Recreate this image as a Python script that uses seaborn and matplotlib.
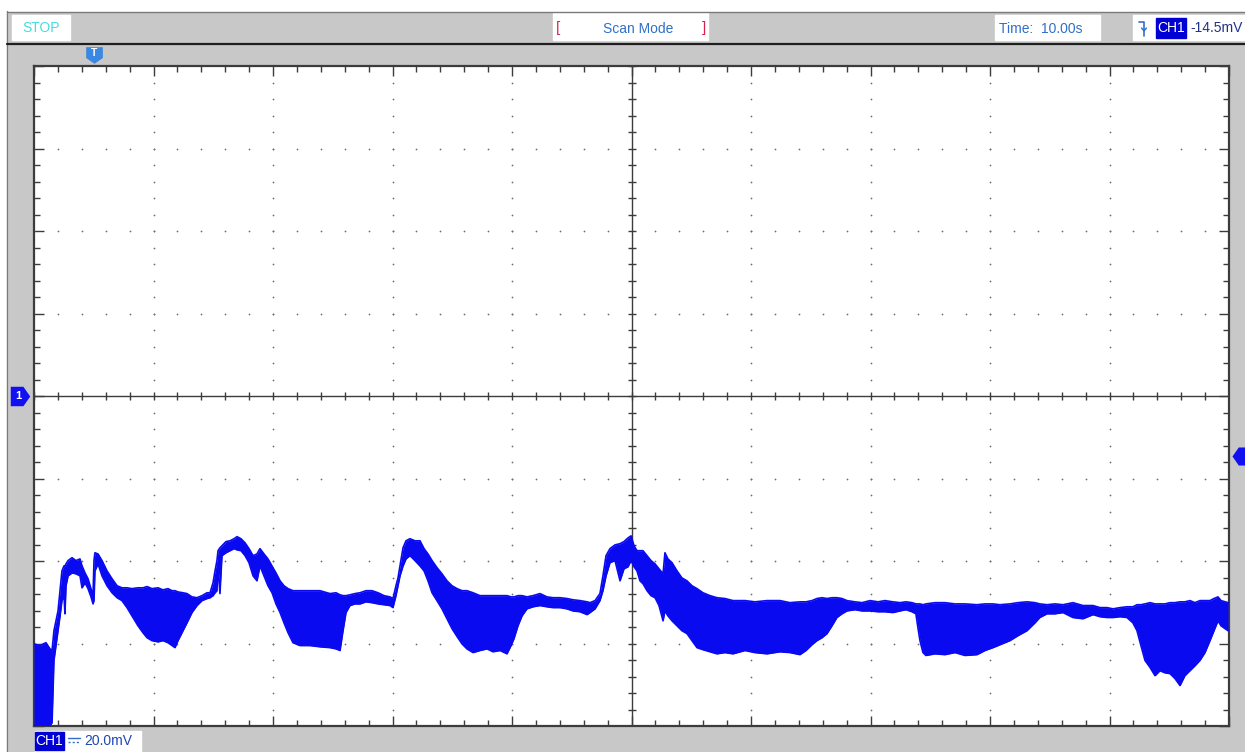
import numpy as np
import pandas as pd
import matplotlib
matplotlib.use("Agg")
import matplotlib.pyplot as plt
import matplotlib.transforms as mtransforms
from matplotlib.patches import Rectangle
from matplotlib.lines import Line2D
import seaborn as sns

time_s = [0.00, 0.50, 1.00, 1.34, 1.51, 1.67, 1.84, 2.01, 2.18, 2.34, 2.51, 2.59, 2.68, 2.85, 3.18, 3.51, 3.85,
          4.02, 4.27, 4.52, 4.77, 4.94, 5.02, 5.10, 5.36, 5.69, 6.11, 6.53, 6.95, 7.36, 7.78, 8.20, 8.70, 9.12,
          9.46, 9.87, 10.38, 10.79, 11.21, 11.55, 11.80, 12.05, 12.47, 12.80, 13.22, 13.64, 14.06, 14.48, 14.73,
          14.98, 15.15, 15.31, 15.40, 15.56, 15.73, 16.07, 16.40, 16.74, 16.99, 17.32, 17.66, 17.99, 18.33, 18.66,
          18.91, 19.25, 19.58, 19.92, 20.25, 20.59, 20.92, 21.26, 21.67, 22.26, 23.10, 23.93, 24.77, 25.27, 25.61,
          25.86, 26.11, 26.44, 26.86, 27.28, 27.78, 28.28, 28.79, 29.29, 29.79, 30.04, 30.29, 30.46, 30.63, 30.88,
          31.13, 31.46, 31.88, 32.30, 32.64, 32.97, 33.31, 33.72, 34.14, 34.56, 34.98, 35.40, 35.82, 36.23, 36.74,
          37.32, 37.91, 38.41, 39.00, 39.58, 39.92, 40.17, 40.50, 40.84, 41.25, 41.76, 42.34, 42.93, 43.43, 44.02,
          44.60, 45.10, 45.69, 46.28, 46.53, 46.95, 47.36, 47.61, 47.87, 48.20, 48.62, 49.04, 49.37, 49.71, 49.96,
          50.21, 50.46, 50.71, 50.96, 51.30, 51.63, 51.97, 52.30, 52.64, 52.80, 53.05, 53.39, 53.81, 54.22, 54.64,
          55.06, 55.48, 55.98, 56.57, 57.15, 57.82, 58.49, 59.50, 60.33, 61.34, 62.43, 63.26, 64.10, 64.60, 65.10,
          65.52, 65.94, 66.36, 66.78, 67.19, 67.61, 68.03, 68.70, 69.29, 69.96, 70.63, 71.21, 71.88, 72.47, 72.97,
          73.47, 73.80, 73.97, 74.14, 74.39, 74.64, 75.40, 76.23, 77.07, 77.91, 78.91, 79.58, 80.25, 80.83, 81.67,
          82.34, 83.09, 83.76, 84.17, 84.77, 85.44, 86.11, 86.94, 87.78, 88.62, 89.21, 89.79, 90.30, 90.88, 91.46,
          91.96, 92.30, 92.63, 92.97, 93.39, 93.81, 94.22, 94.64, 95.06, 95.48, 95.90, 96.31, 96.73, 97.15, 97.57,
          97.99, 98.41, 98.74, 99.08, 99.33, 99.67, 99.92]

upper_mv = [-60.1, -60.5, -59.8, -61.3, -61.7, -56.9, -54.5, -52.1, -47.2, -42.4, -41.2, -41.2, -40.7, -39.9, -39.2,
            -39.9, -39.5, -41.2, -42.9, -44.3, -46.7, -48.4, -39.9, -38.0, -38.3, -39.9, -42.4, -44.3, -46.0, -46.5,
            -46.5, -46.7, -46.5, -46.5, -46.2, -46.7, -46.5, -47.0, -46.7, -47.2, -47.2, -47.5, -47.7, -47.9, -48.7,
            -48.9, -48.4, -47.7, -47.7, -45.3, -42.4, -39.9, -37.5, -36.8, -36.3, -35.3, -35.1, -34.6, -34.1, -34.6,
            -35.6, -37.0, -38.7, -38.3, -37.0, -38.3, -39.5, -41.2, -42.9, -44.8, -46.0, -46.7, -47.2, -47.2, -47.2,
            -47.2, -47.9, -47.7, -48.2, -48.4, -48.4, -48.2, -47.9, -47.7, -47.2, -47.2, -47.7, -48.4, -48.7, -49.1,
            -46.0, -44.1, -41.2, -36.8, -35.1, -34.6, -35.1, -35.1, -37.0, -38.3, -39.9, -41.6, -43.1, -44.8, -46.0,
            -46.7, -47.2, -47.2, -47.7, -48.4, -48.4, -48.4, -48.4, -48.4, -48.7, -48.7, -48.4, -48.4, -48.7, -48.4,
            -47.9, -48.7, -48.9, -48.9, -49.1, -49.4, -49.6, -49.9, -50.1, -49.6, -47.9, -43.6, -38.7, -37.0, -36.1,
            -35.8, -35.3, -34.4, -33.9, -36.3, -37.5, -37.5, -37.5, -38.7, -39.9, -40.7, -41.9, -43.1, -38.0, -39.5,
            -40.4, -42.4, -44.1, -44.8, -46.0, -46.7, -47.7, -48.4, -48.9, -49.1, -49.6, -49.6, -49.9, -49.6, -49.6,
            -50.1, -49.9, -49.9, -49.6, -49.1, -48.9, -49.1, -48.9, -48.9, -49.1, -49.6, -49.9, -50.1, -49.6, -49.9,
            -49.6, -49.9, -50.1, -49.9, -50.1, -50.4, -50.4, -50.4, -50.6, -50.4, -50.1, -50.1, -50.4, -50.4, -50.6,
            -50.4, -50.4, -50.6, -50.4, -50.1, -49.9, -50.1, -50.4, -50.6, -50.4, -50.6, -50.1, -50.8, -50.8, -51.3,
            -51.3, -51.6, -51.3, -51.1, -51.1, -50.6, -50.6, -50.4, -50.1, -50.4, -50.4, -50.4, -50.1, -50.1, -49.9,
            -49.9, -49.6, -50.1, -49.6, -49.6, -49.6, -49.1, -48.7, -49.6, -49.9, -50.1]

lower_mv = [-79.9, -79.9, -79.9, -79.9, -79.2, -64.1, -60.5, -56.9, -53.3, -49.6, -48.4, -52.8, -46.0, -43.6, -42.9,
            -43.1, -43.6, -46.5, -45.3, -46.7, -48.7, -50.4, -49.6, -42.4, -40.7, -43.6, -46.0, -47.7, -48.9, -49.6,
            -51.3, -53.3, -55.7, -57.4, -58.6, -59.3, -59.6, -59.3, -59.8, -60.5, -61.0, -59.3, -56.9, -55.0, -52.5,
            -50.8, -49.6, -49.1, -48.9, -48.4, -47.7, -47.2, -41.2, -47.9, -38.7, -38.0, -37.5, -37.0, -37.3, -37.5,
            -38.7, -40.4, -43.6, -44.8, -41.2, -43.6, -46.0, -47.7, -50.4, -52.5, -55.0, -57.4, -59.8, -60.5, -60.5,
            -60.8, -61.0, -61.3, -61.7, -56.9, -52.5, -50.8, -50.4, -50.4, -49.9, -50.1, -50.4, -50.6, -50.8, -51.3,
            -48.4, -46.0, -43.6, -41.2, -39.5, -38.7, -39.9, -41.2, -42.4, -44.8, -47.7, -49.6, -51.6, -54.0, -56.4,
            -58.3, -60.1, -61.3, -62.2, -61.7, -61.3, -62.0, -61.7, -62.5, -60.5, -58.8, -55.7, -53.3, -51.6, -51.1,
            -50.8, -51.1, -51.3, -51.3, -51.6, -52.1, -52.3, -53.0, -52.5, -51.6, -49.6, -47.2, -43.6, -40.4, -39.9,
            -44.8, -41.9, -41.4, -39.9, -41.4, -42.4, -44.8, -45.5, -47.2, -48.4, -48.9, -50.8, -54.5, -52.1, -53.3,
            -54.5, -55.7, -56.9, -57.6, -59.3, -61.0, -61.5, -62.0, -62.5, -62.2, -62.5, -61.7, -62.2, -62.5, -62.0,
            -62.2, -62.7, -61.7, -60.3, -59.3, -58.6, -57.6, -55.7, -53.7, -52.8, -52.1, -51.8, -52.1, -52.1, -52.3,
            -52.3, -52.5, -52.1, -51.8, -52.3, -52.8, -56.2, -59.3, -62.2, -62.9, -62.5, -62.7, -62.2, -62.9, -62.7,
            -61.7, -61.0, -60.3, -59.3, -58.1, -56.9, -55.0, -53.7, -52.8, -52.8, -52.5, -53.7, -54.0, -53.0, -53.5,
            -53.7, -53.7, -53.5, -53.7, -55.0, -56.9, -60.5, -64.1, -65.8, -67.8, -66.6, -67.1, -67.3, -68.5, -70.2,
            -67.8, -66.6, -65.4, -64.1, -62.2, -59.3, -56.9, -54.5, -55.7, -56.4, -56.9]

volts_per_div_mv = 20.0
time_per_div_s = 10.0
n_xdiv = 10
n_ydiv = 8
trigger_time_s = 5.0
trigger_level_mv = -14.5
status_text = "STOP"
mode_text = "Scan Mode"
time_text = "Time:  10.00s"
channel_text = "CH1"
trigger_text = "-14.5mV"
scale_text = "20.0mV"

df = pd.DataFrame({"time": time_s, "upper": upper_mv, "lower": lower_mv})

# ---------------- styling ----------------
W, H = 1245, 752
BG = "#C8C8C8"
SIG = "#0A0AF0"
FRAME = "#3C3C3C"
TXT_BLUE = "#3070C8"
HL_BLUE = "#0000D4"

sns.set_theme(style="white")
plt.rcParams["font.family"] = ["Liberation Sans", "DejaVu Sans"]

fig = plt.figure(figsize=(W / 100, H / 100), dpi=100, facecolor=BG)


def fx(x):
    return x / W


def fy(y):
    return 1 - y / H


# screen chrome
fig.patches.append(Rectangle((0, fy(11)), 1, 11 / H, transform=fig.transFigure, color="white", zorder=0))
fig.patches.append(Rectangle((0, 0), fx(7), 1, transform=fig.transFigure, color="white", zorder=0))
fig.add_artist(Line2D([fx(7), 1], [fy(11.5), fy(11.5)], color="#7a7a7a", lw=1.0))
fig.add_artist(Line2D([fx(7), fx(7)], [0, fy(11)], color="#7a7a7a", lw=1.0))
fig.add_artist(Line2D([fx(7), 1], [fy(44), fy(44)], color="#1e1e1e", lw=1.6))

ax_left, ax_right, ax_top, ax_bottom = 34, 1229, 66, 726
ax = fig.add_axes([fx(ax_left), fy(ax_bottom), (ax_right - ax_left) / W, (ax_bottom - ax_top) / H])
ax.set_facecolor("white")

x_max = n_xdiv * time_per_div_s
y_half = n_ydiv / 2 * volts_per_div_mv
ax.set_xlim(0, x_max)
ax.set_ylim(-y_half, y_half)

# dotted graticule
minor_x = np.arange(0, x_max + 1e-9, time_per_div_s / 5)
minor_y = np.arange(-y_half, y_half + 1e-9, volts_per_div_mv / 5)
major_x = np.arange(time_per_div_s, x_max, time_per_div_s)
major_y = np.arange(-y_half + volts_per_div_mv, y_half, volts_per_div_mv)
gx, gy = [], []
for mx in major_x:
    for my in minor_y:
        gx.append(mx); gy.append(my)
for my in major_y:
    for mx in minor_x:
        gx.append(mx); gy.append(my)
ax.scatter(gx, gy, s=1.6, color="#6e6e6e", linewidths=0, zorder=1)

# centre cross with ticks
ax.axhline(0, color=FRAME, lw=1.0, zorder=2)
ax.axvline(x_max / 2, color=FRAME, lw=1.0, zorder=2)
ax.plot(minor_x, np.zeros_like(minor_x), ls="none", marker="|", ms=6, mew=1.0, color=FRAME, zorder=2)
ax.plot(np.full_like(minor_y, x_max / 2), minor_y, ls="none", marker="_", ms=6, mew=1.0, color=FRAME, zorder=2)

# border ticks
ax.set_xticks(np.arange(0, x_max + 1e-9, time_per_div_s))
ax.set_yticks(np.arange(-y_half, y_half + 1e-9, volts_per_div_mv))
ax.set_xticks(minor_x, minor=True)
ax.set_yticks(minor_y, minor=True)
ax.set_xticklabels([]); ax.set_yticklabels([])
ax.tick_params(which="both", direction="in", top=True, right=True, bottom=True, left=True,
               color=FRAME, width=1.0, labelbottom=False, labelleft=False)
ax.tick_params(which="major", length=7)
ax.tick_params(which="minor", length=4)
for s in ax.spines.values():
    s.set_color(FRAME)
    s.set_linewidth(1.6)

# waveform
ax.fill_between(df["time"], df["lower"], df["upper"], color=SIG, lw=0, zorder=3)
sns.lineplot(data=df, x="time", y="upper", sort=False, color=SIG, lw=1.2, ax=ax, zorder=4)
sns.lineplot(data=df, x="time", y="lower", sort=False, color=SIG, lw=1.2, ax=ax, zorder=4)
ax.set_xlabel(""); ax.set_ylabel("")

# markers on the screen edges (trigger time, channel ground, trigger level)
down_pent = [(-1, 1), (1, 1), (1, -0.3), (0, -1), (-1, -0.3), (-1, 1)]
right_pent = [(-1, -1), (0.3, -1), (1, 0), (0.3, 1), (-1, 1), (-1, -1)]
left_pent = [(1, -1), (-0.3, -1), (-1, 0), (-0.3, 1), (1, 1), (1, -1)]
tr_top = mtransforms.blended_transform_factory(ax.transData, ax.transAxes)
tr_side = mtransforms.blended_transform_factory(ax.transAxes, ax.transData)
ax.plot([trigger_time_s], [1.0 + 11 / 660], marker=down_pent, ms=12, color="#3A88E2", mec="none",
        transform=tr_top, clip_on=False)
ax.text(trigger_time_s, 1.0 + 13 / 660, "T", transform=tr_top, ha="center", va="center",
        color="white", fontsize=7.5, fontweight="bold", clip_on=False)
ax.plot([-14 / 1195], [0], marker=right_pent, ms=14, color="#1010F0", mec="none",
        transform=tr_side, clip_on=False)
ax.text(-16 / 1195, 0, "1", transform=tr_side, ha="center", va="center",
        color="white", fontsize=8, fontweight="bold", clip_on=False)
ax.plot([1.0 + 12 / 1195], [trigger_level_mv], marker=left_pent, ms=13, color="#1010F0", mec="none",
        transform=tr_side, clip_on=False)

# header boxes
def box(x0, y0, x1, y1, color="white"):
    fig.patches.append(Rectangle((fx(x0), fy(y1)), fx(x1) - fx(x0), (y1 - y0) / H,
                                 transform=fig.transFigure, color=color, zorder=1))


box(12, 15, 70, 40)
fig.text(fx(22), fy(28), status_text, color="#45DCE0", fontsize=10, va="center", ha="left")

box(553, 13, 708, 40)
fig.text(fx(556), fy(28), "[", color="#D8204A", fontsize=11, va="center", ha="left")
fig.text(fx(706), fy(28), "]", color="#D8204A", fontsize=11, va="center", ha="right")
fig.text(fx(638), fy(29), mode_text, color=TXT_BLUE, fontsize=10, va="center", ha="center")

box(995, 15, 1100, 40)
fig.text(fx(999), fy(29), time_text, color=TXT_BLUE, fontsize=10, va="center", ha="left")

box(1133, 15, 1245, 40)
# falling-edge trigger glyph
fig.add_artist(Line2D([fx(1139), fx(1144), fx(1144)], [fy(22), fy(22), fy(36)], color=TXT_BLUE, lw=1.2))
fig.add_artist(Line2D([fx(1141.5), fx(1144), fx(1146.5)], [fy(28), fy(31), fy(28)], color=TXT_BLUE, lw=1.0))
box(1156, 18, 1186, 38, color=HL_BLUE)
fig.text(fx(1171), fy(28.5), channel_text, color="white", fontsize=10, va="center", ha="center")
fig.text(fx(1190), fy(28.5), trigger_text, color="#23308C", fontsize=10, va="center", ha="left")

# footer box
box(35, 731, 141, 752)
box(35, 732, 64, 750, color=HL_BLUE)
fig.text(fx(49.5), fy(741), channel_text, color="white", fontsize=10, va="center", ha="center")
fig.add_artist(Line2D([fx(68), fx(80)], [fy(738), fy(738)], color=TXT_BLUE, lw=1.0))
fig.add_artist(Line2D([fx(68), fx(80)], [fy(742), fy(742)], color=TXT_BLUE, lw=1.0, ls=(0, (1.5, 1.5))))
fig.text(fx(84), fy(741), scale_text, color="#2048B0", fontsize=10, va="center", ha="left")

fig.savefig("out.png", dpi=100, facecolor=BG)
